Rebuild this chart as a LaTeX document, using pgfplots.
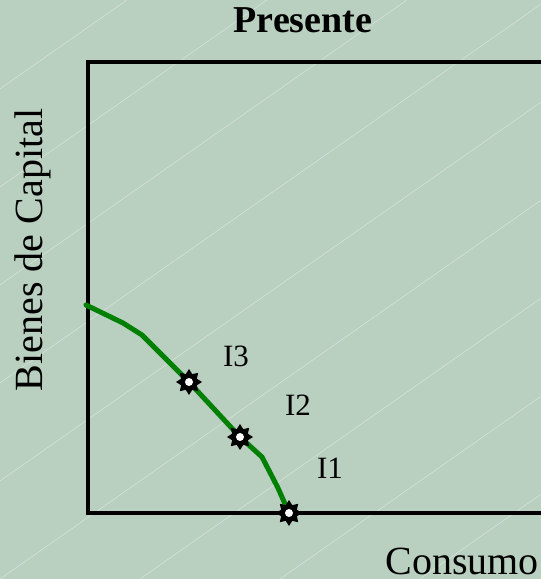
\documentclass[border=0pt]{standalone}
\usepackage{pgfplots}
\pgfplotsset{compat=1.18}
\usepackage{fontspec}
\setmainfont{Liberation Serif}
\definecolor{bgc}{RGB}{185,207,192}
\definecolor{curvegreen}{RGB}{0,128,0}
\pgfdeclareplotmark{gear}{%
  \pgfpathmoveto{\pgfpointpolar{90}{13bp}}%
  \pgfpathlineto{\pgfpointpolar{112.5}{8.5bp}}%
  \pgfpathlineto{\pgfpointpolar{135}{13bp}}%
  \pgfpathlineto{\pgfpointpolar{157.5}{8.5bp}}%
  \pgfpathlineto{\pgfpointpolar{180}{13bp}}%
  \pgfpathlineto{\pgfpointpolar{202.5}{8.5bp}}%
  \pgfpathlineto{\pgfpointpolar{225}{13bp}}%
  \pgfpathlineto{\pgfpointpolar{247.5}{8.5bp}}%
  \pgfpathlineto{\pgfpointpolar{270}{13bp}}%
  \pgfpathlineto{\pgfpointpolar{292.5}{8.5bp}}%
  \pgfpathlineto{\pgfpointpolar{315}{13bp}}%
  \pgfpathlineto{\pgfpointpolar{337.5}{8.5bp}}%
  \pgfpathlineto{\pgfpointpolar{0}{13bp}}%
  \pgfpathlineto{\pgfpointpolar{22.5}{8.5bp}}%
  \pgfpathlineto{\pgfpointpolar{45}{13bp}}%
  \pgfpathlineto{\pgfpointpolar{67.5}{8.5bp}}%
  \pgfpathclose
  \pgfsetfillcolor{black}%
  \pgfusepath{fill}%
  \pgfpathcircle{\pgfpointorigin}{4bp}%
  \pgfsetfillcolor{white}%
  \pgfusepath{fill}%
}
\begin{document}
\begin{tikzpicture}[x=1bp,y=1bp]
\useasboundingbox (-88,-66) rectangle (453,513);
\clip (-88,-66) rectangle (453,513);
\fill[bgc] (-88,-66) rectangle (453,513);
\foreach \s in {-700,-560,-420,-280,-140,0,140,280,420}{
  \draw[white,opacity=0.45,line width=0.5bp] (\s-88,-66) -- ++(35:1100);
}
\begin{axis}[
  anchor=origin,
  scale only axis,
  width=470bp, height=451bp,
  xmin=0, xmax=470, ymin=0, ymax=451,
  axis line style={line width=4bp, black},
  xtick=\empty, ytick=\empty,
  clip=false,
  title={\fontsize{38bp}{40bp}\selectfont\bfseries Presente},
  title style={at={(axis cs:215,475)}, anchor=base, inner sep=0pt},
  xlabel={\fontsize{40bp}{42bp}\selectfont Consumo},
  xlabel style={at={(axis cs:374,-61)}, anchor=base, inner sep=0pt},
  ylabel={\fontsize{40bp}{42bp}\selectfont Bienes de Capital},
  ylabel style={at={(axis cs:-45,263)}, anchor=base, rotate=0, inner sep=0pt},
]
\addplot[curvegreen, line width=5bp, line join=round, line cap=round] coordinates {
  (-2,208) (35,190) (54,178) (101,131) (152,76) (174,56) (190,25) (201,0)
};
\addplot[only marks, mark=gear] coordinates {
  (101,131) (152,76) (201,0)
};
\node[font=\fontsize{31bp}{33bp}\selectfont] at (axis cs:148,157) {I3};
\node[font=\fontsize{31bp}{33bp}\selectfont] at (axis cs:210,108) {I2};
\node[font=\fontsize{31bp}{33bp}\selectfont] at (axis cs:242,45) {I1};
\end{axis}
\end{tikzpicture}
\end{document}
